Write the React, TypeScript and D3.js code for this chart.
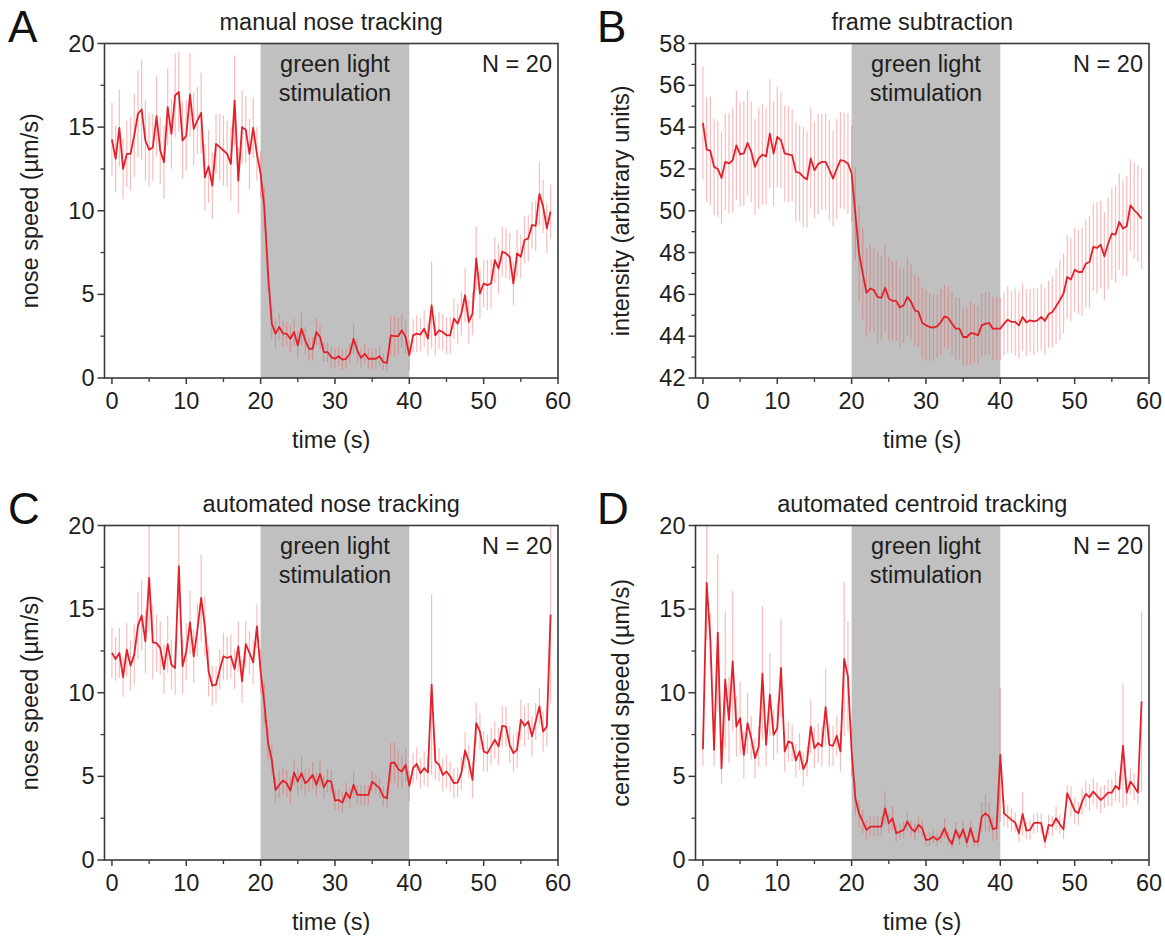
import React from "react";
import * as d3 from "d3";

// time grid: samples every 0.5 s from 0 to 59 s
const timeStep = 0.5;
const timeEnd = 59;

const speedManual = [
  14.26, 13.1, 14.95, 12.5, 13.4, 13.4, 14.5, 15.8, 16.05, 14.2,
  13.65, 13.8, 15.65, 13.6, 12.9, 16.2, 14.6, 16.9, 17.1, 14.2,
  14.5, 16.95, 14.9, 15.4, 15.85, 12.0, 12.65, 11.5, 14.0, 13.8,
  13.6, 13.4, 12.8, 16.6, 11.8, 15.0, 14.85, 13.4, 14.95, 13.4,
  12.2, 10.2, 6.2, 3.25, 2.65, 3.05, 2.65, 2.65, 2.35, 2.75,
  1.95, 2.95, 2.25, 1.75, 1.75, 2.75, 2.45, 1.55, 1.55, 1.25,
  1.15, 1.3, 1.1, 1.15, 1.45, 2.35, 1.65, 1.2, 1.45, 1.15,
  1.15, 1.15, 1.3, 0.95, 0.9, 2.55, 2.5, 2.5, 2.85, 2.45,
  1.35, 2.55, 2.65, 2.6, 2.95, 2.35, 4.35, 2.55, 2.85, 2.75,
  2.55, 2.55, 3.55, 3.25, 3.85, 4.95, 3.35, 3.85, 7.15, 5.05,
  5.65, 5.55, 5.65, 7.05, 6.55, 7.55, 7.45, 7.25, 5.65, 7.45,
  7.25, 8.25, 8.35, 9.15, 9.1, 11.0, 10.25, 8.95, 9.95,
];
const errManual = [
  2.2, 2.0, 2.3, 1.8, 2.0, 2.2, 2.5, 2.6, 3.0, 2.4,
  2.2, 2.0, 2.4, 2.0, 2.2, 2.3, 2.1, 2.5, 2.4, 2.3,
  2.1, 2.5, 2.2, 2.0, 2.4, 2.0, 2.2, 2.0, 1.8, 2.0,
  2.1, 2.0, 2.2, 2.7, 2.0, 2.2, 2.0, 2.1, 1.8, 1.6,
  1.4, 1.2, 1.0, 0.9, 0.9, 0.8, 0.8, 0.7, 0.8, 0.8,
  0.8, 1.0, 0.8, 0.7, 0.7, 0.8, 0.7, 0.6, 0.6, 0.6,
  0.6, 0.6, 0.6, 0.6, 0.6, 0.9, 0.7, 0.6, 0.6, 0.6,
  0.6, 0.6, 0.6, 0.5, 0.5, 1.2, 1.2, 1.1, 1.0, 1.0,
  0.9, 1.0, 1.1, 1.0, 1.1, 1.0, 2.6, 1.2, 1.1, 1.1,
  1.1, 1.1, 1.2, 1.2, 1.3, 1.6, 1.3, 1.3, 1.9, 1.5,
  1.4, 1.5, 1.5, 1.4, 1.5, 1.5, 1.5, 1.4, 1.3, 1.4,
  1.3, 1.4, 1.4, 1.4, 1.5, 1.9, 1.6, 1.5, 1.6,
];

const intensityFrame = [
  54.2, 52.93, 52.86, 52.1, 52.0, 51.57, 52.34, 52.26, 52.42, 53.13,
  52.7, 52.74, 53.25, 52.82, 52.1, 52.5, 52.69, 52.6, 53.69, 52.74,
  53.53, 53.37, 52.74, 52.7, 52.65, 51.86, 51.81, 51.62, 51.5, 52.5,
  51.94, 52.23, 52.34, 52.34, 51.97, 51.54, 52.0, 52.42, 52.38, 52.26,
  51.78, 49.86, 47.95, 46.99, 46.07, 46.28, 46.2, 45.88, 45.83, 46.32,
  45.8, 45.69, 45.69, 45.37, 45.48, 45.88, 45.64, 45.24, 45.16, 44.63,
  44.52, 44.44, 44.41, 44.47, 44.68, 44.95, 44.87, 44.6, 44.36, 44.36,
  43.96, 43.96, 44.15, 44.12, 44.04, 44.52, 44.6, 44.63, 44.36, 44.36,
  44.36, 44.6, 44.79, 44.68, 44.68, 44.52, 44.92, 44.65, 44.76, 44.71,
  44.76, 44.92, 44.73, 45.05, 45.16, 45.43, 45.72, 46.04, 46.83, 46.71,
  47.18, 47.07, 47.07, 47.47, 47.55, 48.27, 48.22, 48.38, 47.82, 48.43,
  48.9, 48.86, 49.47, 49.15, 49.26, 50.26, 50.02, 49.86, 49.62,
];
const errFrame = [
  2.7, 2.5, 2.6, 2.3, 2.3, 2.2, 2.3, 2.4, 2.5, 2.6,
  2.5, 2.5, 2.5, 2.4, 2.3, 2.4, 2.4, 2.3, 2.6, 2.5,
  2.4, 2.3, 2.3, 2.3, 2.2, 2.4, 2.3, 2.4, 2.3, 2.4,
  2.3, 2.4, 2.3, 2.3, 2.4, 2.3, 2.4, 2.3, 2.3, 2.4,
  2.3, 2.2, 2.3, 2.2, 2.1, 2.1, 2.0, 2.2, 2.0, 2.1,
  2.0, 1.9, 1.9, 1.9, 1.8, 1.9, 1.8, 1.7, 1.7, 1.7,
  1.7, 1.6, 1.6, 1.5, 1.6, 1.5, 1.5, 1.5, 1.5, 1.5,
  1.4, 1.4, 1.5, 1.4, 1.4, 1.5, 1.5, 1.5, 1.5, 1.5,
  1.5, 1.5, 1.6, 1.5, 1.6, 1.6, 1.6, 1.6, 1.5, 1.6,
  1.5, 1.6, 1.6, 1.6, 1.7, 1.8, 1.9, 1.9, 2.0, 2.0,
  2.0, 2.0, 2.1, 2.1, 2.2, 2.1, 2.2, 2.1, 2.1, 2.2,
  2.2, 2.3, 2.3, 2.3, 2.4, 2.2, 2.3, 2.3, 2.4,
];

const speedAutoNose = [
  12.38, 12.02, 12.38, 10.94, 12.57, 11.62, 12.28, 14.01, 14.61, 13.07,
  16.87, 13.01, 12.97, 12.67, 11.42, 12.91, 11.68, 11.48, 17.56, 11.58,
  12.47, 14.21, 12.18, 13.77, 15.67, 13.97, 11.28, 10.42, 10.48, 11.38,
  12.18, 12.08, 12.18, 11.42, 12.77, 10.68, 12.91, 12.38, 11.82, 13.97,
  11.28, 9.38, 6.99, 5.99, 4.19, 4.49, 4.75, 4.59, 4.15, 5.23,
  4.69, 5.19, 4.59, 4.79, 5.09, 4.49, 5.15, 4.35, 4.75, 4.69,
  3.55, 3.59, 3.43, 4.03, 3.69, 4.49, 3.89, 3.89, 3.89, 3.89,
  4.69, 4.49, 4.29, 3.79, 3.69, 5.79, 5.83, 5.43, 5.29, 5.69,
  4.43, 5.49, 5.75, 5.19, 5.49, 5.23, 10.48, 5.89, 5.69, 5.09,
  5.29, 4.99, 4.59, 4.63, 5.19, 6.55, 5.89, 4.79, 8.18, 7.68,
  6.49, 6.39, 6.79, 7.19, 6.79, 8.02, 7.98, 6.89, 6.39, 6.59,
  8.38, 8.02, 8.28, 7.39, 8.28, 9.18, 7.68, 7.98, 14.67,
];
const errAutoNose = [
  1.5, 1.3, 1.5, 1.2, 1.6, 1.5, 1.8, 2.0, 2.1, 1.9,
  3.2, 2.2, 1.7, 1.6, 1.5, 1.7, 1.5, 1.6, 2.5, 1.6,
  1.7, 1.9, 1.6, 1.6, 2.6, 1.8, 1.5, 1.2, 1.1, 1.2,
  1.4, 1.3, 1.3, 1.2, 1.5, 1.3, 1.4, 1.3, 1.3, 1.3,
  1.3, 1.2, 1.0, 0.9, 0.8, 0.8, 0.8, 0.8, 0.8, 0.8,
  0.8, 1.0, 0.8, 0.7, 0.8, 0.7, 0.8, 0.7, 0.7, 0.7,
  0.6, 0.6, 0.6, 0.6, 0.6, 0.8, 0.6, 0.6, 0.6, 0.6,
  0.6, 0.6, 0.6, 0.6, 0.6, 1.2, 1.2, 1.1, 1.0, 1.0,
  0.9, 0.9, 1.0, 0.9, 1.0, 0.9, 5.4, 1.1, 1.0, 1.0,
  1.0, 0.9, 0.9, 0.9, 1.0, 1.1, 1.0, 1.1, 1.2, 1.1,
  1.2, 1.1, 1.1, 1.1, 1.1, 1.2, 1.2, 1.1, 1.1, 1.1,
  1.2, 1.2, 1.1, 1.2, 1.1, 1.1, 1.2, 1.2, 5.3,
];

const speedCentroid = [
  6.63, 16.57, 13.17, 6.6, 13.6, 5.49, 10.78, 8.38, 11.88, 7.98,
  8.48, 6.29, 8.18, 7.29, 6.09, 6.79, 11.14, 6.89, 9.88, 7.49,
  7.88, 11.48, 6.49, 7.09, 6.99, 5.95, 6.49, 5.43, 5.89, 7.98,
  6.69, 6.99, 6.79, 9.14, 6.89, 6.83, 7.43, 6.49, 12.02, 10.98,
  6.49, 3.69, 2.79, 2.3, 1.8, 2.0, 2.0, 2.0, 2.0, 3.09,
  2.2, 2.5, 1.6, 1.7, 1.8, 2.3, 1.9, 1.7, 2.1, 1.9,
  1.2, 1.24, 1.4, 1.2, 1.4, 1.9, 1.3, 0.96, 1.8, 1.3,
  1.84, 1.04, 1.9, 1.1, 1.1, 2.59, 2.79, 2.59, 1.84, 1.9,
  6.29, 2.79, 2.59, 2.4, 2.24, 1.6, 2.75, 1.76, 1.8, 2.2,
  2.24, 2.2, 1.1, 2.1, 2.04, 2.5, 2.14, 1.84, 3.99, 3.49,
  2.95, 2.79, 3.49, 3.95, 3.75, 4.09, 3.83, 3.59, 3.79, 4.03,
  4.03, 4.43, 4.23, 6.83, 4.03, 4.69, 4.39, 4.03, 9.48,
];
const errCentroid = [
  1.0, 3.4, 1.6, 1.0, 4.7, 0.9, 4.1, 2.6, 4.2, 1.8,
  2.2, 1.4, 1.8, 1.3, 1.2, 1.2, 4.0, 1.3, 2.5, 1.5,
  1.5, 2.9, 1.2, 1.2, 1.1, 1.0, 1.1, 1.0, 0.9, 1.6,
  1.2, 1.2, 1.2, 2.3, 1.3, 1.2, 1.2, 1.2, 4.6, 3.3,
  1.5, 1.0, 0.8, 0.7, 0.6, 0.6, 0.6, 0.6, 0.6, 1.0,
  0.6, 0.7, 0.5, 0.5, 0.5, 0.6, 0.5, 0.5, 0.5, 0.5,
  0.4, 0.4, 0.4, 0.4, 0.4, 0.6, 0.4, 0.3, 0.5, 0.4,
  0.5, 0.3, 0.5, 0.3, 0.3, 0.9, 1.1, 0.9, 0.7, 0.7,
  4.0, 0.8, 0.7, 0.7, 0.6, 0.5, 1.3, 0.5, 0.6, 0.6,
  0.6, 0.6, 0.4, 0.6, 0.6, 0.7, 0.6, 0.6, 0.5, 0.9,
  0.8, 0.7, 0.8, 0.8, 0.8, 0.8, 0.8, 0.8, 0.7, 0.8,
  0.8, 0.9, 0.8, 3.7, 0.8, 0.8, 0.8, 0.7, 5.4,
];

const xTicks = [0, 10, 20, 30, 40, 50, 60];
const xMinorTicks = [5, 15, 25, 35, 45, 55];
const speedTicks = [0, 5, 10, 15, 20];
const speedMinor = [2.5, 7.5, 12.5, 17.5];
const intensityTicks = [42, 44, 46, 48, 50, 52, 54, 56, 58];
const intensityMinor = [43, 45, 47, 49, 51, 53, 55, 57];
const stimWindow = [20, 40];

const FONT = "'Liberation Sans', Arial, Helvetica, sans-serif";
const RED = "#e4202a";
const ERR = "rgba(238, 70, 70, 0.36)";
const GRAY = "#c0c0c0";
const AXIS = "#3a3a3a";
const TXT = "#1e1e1e";
const FS = 23.5;

type PanelProps = {
  id: string;
  letter: string;
  letterX: number;
  title: string;
  yLabel: string;
  values: number[];
  errors: number[];
  yDomain: [number, number];
  yTicks: number[];
  yMinor: number[];
  left: number;
  top: number;
};

const PW = 453.5;
const PH = 334.5;

function Panel(p: PanelProps) {
  const times = d3.range(0, timeEnd + timeStep / 2, timeStep);
  const x = d3.scaleLinear().domain([-1, 60]).range([p.left, p.left + PW]);
  const y = d3.scaleLinear().domain(p.yDomain).range([p.top + PH, p.top]);
  const line = d3
    .line<number>()
    .x((_, i) => x(times[i]))
    .y((v) => y(v));
  const bottom = p.top + PH;
  const cx = p.left + PW / 2;
  return (
    <g>
      <defs>
        <clipPath id={`clip-${p.id}`}>
          <rect x={p.left} y={p.top} width={PW} height={PH} />
        </clipPath>
      </defs>
      <text x={p.letterX} y={p.top - 2} fontSize={44} fontFamily={FONT} fill="#111">
        {p.letter}
      </text>
      <text x={cx} y={p.top - 14} fontSize={FS} fontFamily={FONT} textAnchor="middle" fill={TXT}>
        {p.title}
      </text>
      <rect
        x={x(stimWindow[0])}
        y={p.top}
        width={x(stimWindow[1]) - x(stimWindow[0])}
        height={PH}
        fill={GRAY}
      />
      <g clipPath={`url(#clip-${p.id})`}>
        {p.values.map((v, i) => (
          <line
            key={i}
            x1={x(times[i])}
            x2={x(times[i])}
            y1={y(v - p.errors[i])}
            y2={y(v + p.errors[i])}
            stroke={ERR}
            strokeWidth={1.2}
          />
        ))}
        <path d={line(p.values) || ""} fill="none" stroke={RED} strokeWidth={1.8} strokeLinejoin="round" />
      </g>
      <text x={x(30)} y={p.top + 28} fontSize={FS} fontFamily={FONT} textAnchor="middle" fill={TXT}>
        green light
      </text>
      <text x={x(30)} y={p.top + 57} fontSize={FS} fontFamily={FONT} textAnchor="middle" fill={TXT}>
        stimulation
      </text>
      <text x={p.left + PW - 6} y={p.top + 28} fontSize={FS} fontFamily={FONT} textAnchor="end" fill={TXT}>
        N = 20
      </text>
      <rect x={p.left} y={p.top} width={PW} height={PH} fill="none" stroke={AXIS} strokeWidth={1.6} />
      {p.yTicks.map((t) => (
        <g key={`yt${t}`}>
          <line x1={p.left - 7} x2={p.left} y1={y(t)} y2={y(t)} stroke={AXIS} strokeWidth={1.5} />
          <text
            x={p.left - 10}
            y={y(t) + 8}
            fontSize={FS}
            fontFamily={FONT}
            textAnchor="end"
            fill={TXT}
          >
            {t}
          </text>
        </g>
      ))}
      {p.yMinor.map((t) => (
        <line key={`ym${t}`} x1={p.left - 4} x2={p.left} y1={y(t)} y2={y(t)} stroke={AXIS} strokeWidth={1.3} />
      ))}
      {xTicks.map((t) => (
        <g key={`xt${t}`}>
          <line x1={x(t)} x2={x(t)} y1={bottom} y2={bottom + 6} stroke={AXIS} strokeWidth={1.5} />
          <text x={x(t)} y={bottom + 31} fontSize={FS} fontFamily={FONT} textAnchor="middle" fill={TXT}>
            {t}
          </text>
        </g>
      ))}
      {xMinorTicks.map((t) => (
        <line key={`xm${t}`} x1={x(t)} x2={x(t)} y1={bottom} y2={bottom + 4} stroke={AXIS} strokeWidth={1.3} />
      ))}
      <text x={cx} y={bottom + 70} fontSize={FS} fontFamily={FONT} textAnchor="middle" fill={TXT}>
        time (s)
      </text>
      <text
        transform={`translate(${p.left - 67}, ${p.top + PH / 2}) rotate(-90)`}
        fontSize={FS}
        fontFamily={FONT}
        textAnchor="middle"
        fill={TXT}
      >
        {p.yLabel}
      </text>
    </g>
  );
}

export default function App() {
  return (
    <svg
      width={1165}
      height={936}
      style={{ position: "absolute", left: 0, top: 0, background: "#fff" }}
    >
      <rect width={1165} height={936} fill="#fff" />
      <Panel
        id="a"
        letter="A"
        letterX={8}
        title="manual nose tracking"
        yLabel="nose speed (µm/s)"
        values={speedManual}
        errors={errManual}
        yDomain={[0, 20]}
        yTicks={speedTicks}
        yMinor={speedMinor}
        left={104.5}
        top={43.5}
      />
      <Panel
        id="b"
        letter="B"
        letterX={597}
        title="frame subtraction"
        yLabel="intensity (arbitrary units)"
        values={intensityFrame}
        errors={errFrame}
        yDomain={[42, 58]}
        yTicks={intensityTicks}
        yMinor={intensityMinor}
        left={695.5}
        top={43.5}
      />
      <Panel
        id="c"
        letter="C"
        letterX={8}
        title="automated nose tracking"
        yLabel="nose speed (µm/s)"
        values={speedAutoNose}
        errors={errAutoNose}
        yDomain={[0, 20]}
        yTicks={speedTicks}
        yMinor={speedMinor}
        left={104.5}
        top={525.5}
      />
      <Panel
        id="d"
        letter="D"
        letterX={597}
        title="automated centroid tracking"
        yLabel="centroid speed (µm/s)"
        values={speedCentroid}
        errors={errCentroid}
        yDomain={[0, 20]}
        yTicks={speedTicks}
        yMinor={speedMinor}
        left={695.5}
        top={525.5}
      />
    </svg>
  );
}
